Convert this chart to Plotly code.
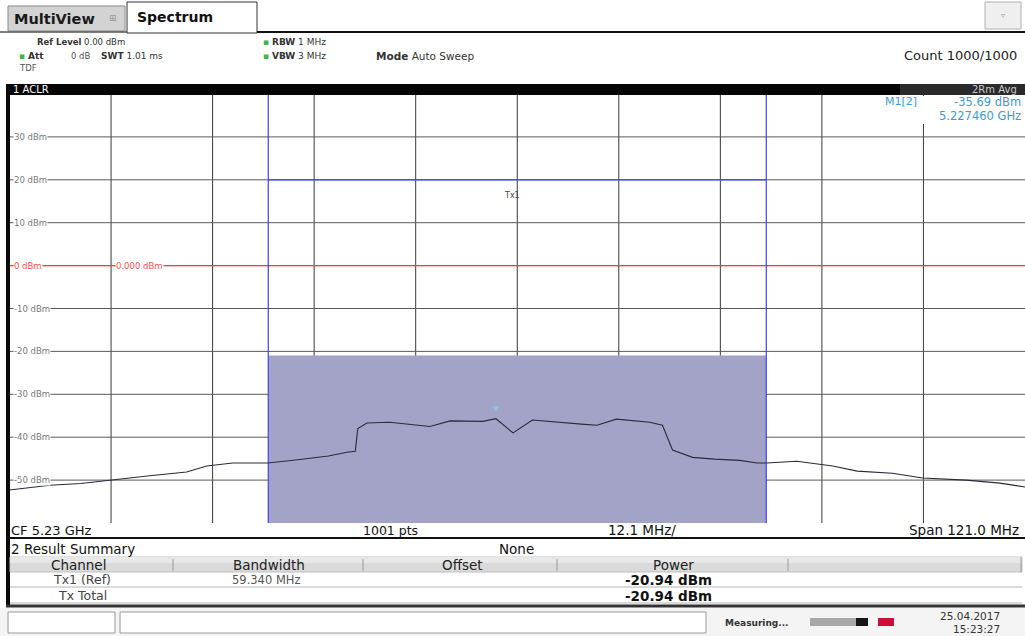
import plotly.graph_objects as go

W, H = 1025, 636

# ---- trace data: frequency offset from CF (MHz) and level (dBm) ----
freq_mhz = [-60.5, -55.7, -52.0, -48.5, -43.8, -39.4, -37.0, -33.9, -29.7, -25.9,
            -22.5, -20.3, -19.3, -19.0, -17.9, -15.2, -12.5, -10.4, -8.0, -4.1,
            -2.54, -0.5, 1.8, 4.0, 5.9, 8.0, 9.5, 11.8, 15.8, 17.3,
            18.5, 20.9, 23.5, 26.5, 28.6, 29.7, 33.3, 36.3, 37.6, 40.5,
            44.7, 48.3, 53.5, 57.5, 60.5]
level_dbm = [-52.3, -51.2, -50.8, -50.0, -49.0, -48.1, -46.7, -46.0, -46.0, -45.2,
             -44.4, -43.5, -43.3, -38.0, -36.7, -36.5, -37.0, -37.5, -36.2, -36.3,
             -35.69, -39.0, -36.0, -36.4, -36.7, -37.0, -37.2, -35.8, -36.5, -37.2,
             -43.0, -44.7, -45.1, -45.4, -46.0, -46.0, -45.6, -46.3, -46.7, -47.9,
             -48.4, -49.5, -50.0, -50.7, -51.6]

y_ticks = [30, 20, 10, 0, -10, -20, -30, -40, -50]
y_tick_labels = ["30 dBm", "20 dBm", "10 dBm", "0 dBm", "-10 dBm", "-20 dBm",
                 "-30 dBm", "-40 dBm", "-50 dBm"]
x_div = 12.1          # MHz per division
span = 121.0          # MHz
tx_bw = 59.340        # MHz channel bandwidth
tx_power = -20.94     # dBm
ref_line = 0.0        # dBm
tx_limit = 20.0       # dBm
marker_f = -2.54      # MHz offset of M1
marker_level = -35.69

table_header = ["Channel", "Bandwidth", "Offset", "Power"]
table_rows = [["Tx1 (Ref)", "59.340 MHz", "", "-20.94 dBm"],
              ["Tx Total", "", "", "-20.94 dBm"]]

FONT = "DejaVu Sans"


def px(x):
    return x / W


def py(y):
    return 1 - y / H


shapes = []
ann = []


def rect(x0, y0, x1, y1, fill, line=None, lw=1, layer="above"):
    shapes.append(dict(type="rect", xref="paper", yref="paper",
                       x0=px(x0), x1=px(x1), y0=py(y0), y1=py(y1),
                       fillcolor=fill, line=dict(color=line or fill, width=lw if line else 0),
                       layer=layer))


def hline(x0, x1, y, color, w=1):
    shapes.append(dict(type="line", xref="paper", yref="paper",
                       x0=px(x0), x1=px(x1), y0=py(y), y1=py(y),
                       line=dict(color=color, width=w)))


def vline(x, y0, y1, color, w=1):
    shapes.append(dict(type="line", xref="paper", yref="paper",
                       x0=px(x), x1=px(x), y0=py(y0), y1=py(y1),
                       line=dict(color=color, width=w)))


def text(x, y, s, size=10, color="#222", anchor="left", bold=False, bg=None, family=FONT):
    if bold:
        s = "<b>" + s + "</b>"
    a = dict(xref="paper", yref="paper", x=px(x), y=py(y), text=s, showarrow=False,
             xanchor=anchor, yanchor="middle", borderpad=0,
             font=dict(family=family, size=size, color=color))
    if bg:
        a["bgcolor"] = bg
    ann.append(a)


# ---- plot-area content (data coordinates) ----
half = span / 2
data_shapes = []
for f in [-half + x_div * k for k in range(1, 10)]:
    data_shapes.append(dict(type="line", xref="x", yref="y", x0=f, x1=f, y0=-60, y1=40,
                            line=dict(color="#3a3a3a", width=1), layer="below"))
for v in y_ticks:
    data_shapes.append(dict(type="line", xref="x", yref="y", x0=-half, x1=half, y0=v, y1=v,
                            line=dict(color="#5a5a5a", width=1), layer="below"))
# channel power box
data_shapes.append(dict(type="rect", xref="x", yref="y", x0=-tx_bw / 2, x1=tx_bw / 2,
                        y0=-60, y1=tx_power, fillcolor="#a3a3c7",
                        line=dict(width=0), layer="below"))
# reference level line
data_shapes.append(dict(type="line", xref="x", yref="y", x0=-half, x1=half,
                        y0=ref_line, y1=ref_line, line=dict(color="#ff3a3a", width=1.2),
                        layer="below"))
# channel edges and limit line
for f in (-tx_bw / 2, tx_bw / 2):
    data_shapes.append(dict(type="line", xref="x", yref="y", x0=f, x1=f, y0=-60, y1=40,
                            line=dict(color="#4040ff", width=1.2), layer="below"))
data_shapes.append(dict(type="line", xref="x", yref="y", x0=-tx_bw / 2, x1=tx_bw / 2,
                        y0=tx_limit, y1=tx_limit, line=dict(color="#4040ff", width=1.2),
                        layer="below"))

data_ann = []
for v, lab in zip(y_ticks, y_tick_labels):
    data_ann.append(dict(xref="paper", yref="y", x=px(13), y=v, text=lab, showarrow=False,
                         xanchor="left", yanchor="middle", bgcolor="white", borderpad=0,
                         font=dict(family=FONT, size=8.5,
                                   color="#ff5050" if v == 0 else "#7a7a7a")))
data_ann.append(dict(xref="paper", yref="y", x=px(115), y=ref_line, text="0.000 dBm",
                     showarrow=False, xanchor="left", yanchor="middle", bgcolor="white",
                     borderpad=0, font=dict(family=FONT, size=8.5, color="#ff5050")))
data_ann.append(dict(xref="x", yref="y", x=-0.6, y=tx_limit - 3.6, text="Tx1",
                     showarrow=False, xanchor="center", yanchor="middle",
                     font=dict(family=FONT, size=8, color="#444")))

# ---- window chrome ----
rect(0, 0, 1025, 636, "white", layer="below")
rect(8, 6, 125, 31, "#d3d3d3", line="#8a8a8a")
text(13, 19, "MultiView", 14.5, "#1a1a1a", bold=True)
text(113, 18, "⊞", 9, "#9a9a9a", anchor="center")
hline(0, 128, 32, "#555", 1.5)
rect(127, 2, 257, 33, "white", line="#333", lw=1)
text(136, 17, "Spectrum", 14, "#111", bold=True)
hline(257, 1025, 32, "#111", 2)
rect(985, 2, 1021, 29, "#efefef", line="#b0b0b0")
text(1003, 16, "▿", 8, "#999", anchor="center")

text(36, 42, "<b>Ref Level</b> 0.00 dBm", 8.5, "#333")
text(18, 56, "<span style='color:#39b54a'>▪</span> <b>Att</b>", 9, "#333")
text(70, 56, "0 dB", 8.5, "#555")
text(100, 56, "<b>SWT</b> 1.01 ms", 9, "#333")
text(262, 42, "<span style='color:#39b54a'>▪</span> <b>RBW</b> 1 MHz", 9, "#333")
text(262, 56, "<span style='color:#39b54a'>▪</span> <b>VBW</b> 3 MHz", 9, "#333")
text(375, 56, "<b>Mode</b> Auto Sweep", 10.5, "#333")
text(18, 68, "TDF", 8.5, "#555")
text(1018, 56, "Count 1000/1000", 13, "#222", anchor="right")

rect(7, 84, 1025, 95, "#050505")
rect(900, 84, 1025, 95, "#2a2a2a")
text(12, 89, "1 ACLR", 10, "white")
text(1018, 89, "2Rm Avg", 10, "#c8c8c8", anchor="right")
rect(6, 84, 10, 607, "#0a0a0a")

# marker readout box
rect(872, 96, 1025, 124, "white")
text(918, 102, "M1[2]", 11, "#3b9ad8", anchor="right")
text(1022, 102, "%.2f dBm" % marker_level, 11.5, "#3b9ad8", anchor="right")
text(1022, 116, "5.227460 GHz", 11.5, "#3b9ad8", anchor="right")

# frequency footer
rect(10, 523, 1025, 537, "white")
text(10, 530, "CF 5.23 GHz", 13, "#111")
text(362, 530, "1001 pts", 12.5, "#111")
text(607, 530, "12.1 MHz/", 13.5, "#111")
text(1020, 530, "Span 121.0 MHz", 13.5, "#111", anchor="right")
hline(6, 1025, 538, "#111", 2)

# result summary
text(10, 549, "2 Result Summary", 13.5, "#111")
text(516, 549, "None", 13.5, "#111", anchor="center")
rect(10, 557, 1022, 572, "#dadada", line="#c0c0c0")
rect(10, 557, 1022, 563, "#e8e8e8")
col_x = [78, 269, 462, 673]
for cx, h in zip(col_x, table_header):
    text(cx, 565, h, 13.5, "#222", anchor="center")
for sx in [173, 363, 557, 788]:
    vline(sx, 559, 571, "#9a9a9a", 1)
vline(1021, 557, 572, "#9a9a9a", 1)
row_y = [579.5, 595.5]
for ry, row in zip(row_y, table_rows):
    text(82, ry, row[0], 12.5, "#444", anchor="center")
    text(266, ry, row[1], 11.5, "#555", anchor="center")
    text(668, ry, row[3], 13.5, "#111", anchor="center", bold=True)
hline(10, 1022, 587, "#b5b5b5", 1)
hline(10, 1022, 603, "#b5b5b5", 1)
hline(6, 1025, 606, "#333", 3)

# status bar
rect(0, 608, 1025, 636, "#f4f4f4")
rect(8, 612, 115, 633, "white", line="#9a9a9a")
rect(120, 612, 706, 633, "white", line="#9a9a9a")
text(724, 623, "<b>Measuring...</b>", 9, "#333")
rect(810, 618, 856, 626, "#a8a8a8")
rect(856, 618, 868, 626, "#151515")
rect(878, 618, 894, 626, "#c8103a")
text(1001, 616, "25.04.2017", 10.5, "#333", anchor="right")
text(1001, 629, "15:23:27", 10.5, "#333", anchor="right")

fig = go.Figure()
fig.add_trace(go.Scatter(x=freq_mhz, y=level_dbm, mode="lines",
                         line=dict(color="#2a2a38", width=1.1), hoverinfo="skip"))
fig.add_trace(go.Scatter(x=[marker_f], y=[marker_level + 2.5], mode="markers",
                         marker=dict(symbol="triangle-down", size=7, color="#8fc3e8"),
                         hoverinfo="skip"))

fig.update_layout(
    width=W, height=H,
    margin=dict(l=0, r=0, t=0, b=0),
    paper_bgcolor="white", plot_bgcolor="white",
    showlegend=False,
    xaxis=dict(domain=[px(9.5), 1.0], range=[-half, half], showgrid=False,
               zeroline=False, showticklabels=False, ticks="", fixedrange=True),
    yaxis=dict(domain=[py(523), py(94)], range=[-60, 40], showgrid=False,
               zeroline=False, showticklabels=False, ticks="", fixedrange=True),
    shapes=data_shapes + shapes,
    annotations=data_ann + ann,
)

fig.write_html("out.html")
